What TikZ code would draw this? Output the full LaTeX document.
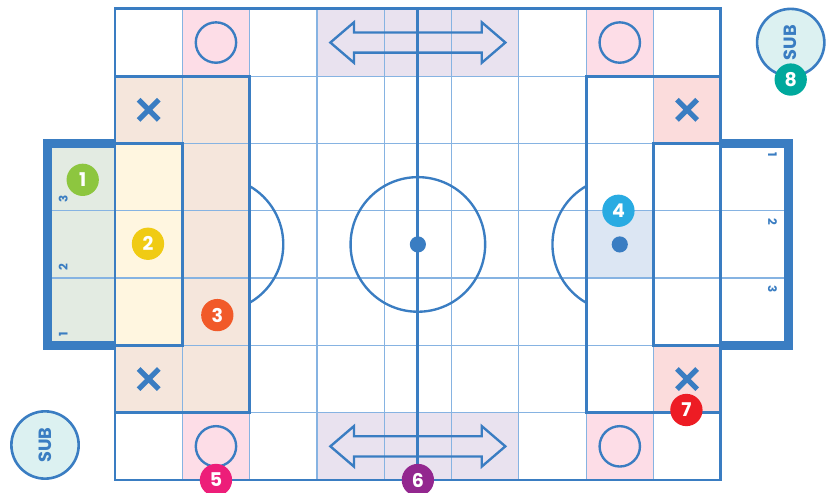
\documentclass[tikz,border=0pt]{standalone}
\usepackage{fontspec}
\usepackage{xcolor}
\newfontfamily\badgefont{Poppins}

\definecolor{lineblue}{HTML}{3A7DC2}
\definecolor{gridblue}{HTML}{86B3E2}
\definecolor{goalfill}{HTML}{E3EBE2}
\definecolor{boxyellow}{HTML}{FFF6E0}
\definecolor{boxpeach}{HTML}{F5E6DC}
\definecolor{cellpink}{HTML}{FDDDE7}
\definecolor{cellrose}{HTML}{FBDCDC}
\definecolor{celllilac}{HTML}{E9E2EF}
\definecolor{cellblue}{HTML}{DCE6F3}
\definecolor{subfill}{HTML}{DCF1F1}
\definecolor{badgeone}{HTML}{8DC63F}
\definecolor{badgetwo}{HTML}{F0CB14}
\definecolor{badgethree}{HTML}{F15A29}
\definecolor{badgefour}{HTML}{29ABE2}
\definecolor{badgefive}{HTML}{ED1E79}
\definecolor{badgesix}{HTML}{93278F}
\definecolor{badgeseven}{HTML}{ED1C24}
\definecolor{badgeeight}{HTML}{00A99D}

\begin{document}
\begin{tikzpicture}[x=1cm,y=1cm,
    gridline/.style={line width=0.5pt, draw=gridblue},
    fieldline/.style={line width=1.2pt, draw=lineblue},
    markline/.style={line width=1pt, draw=lineblue},
    goalline/.style={line width=3.8pt, draw=lineblue},
    badge/.style={circle, fill=#1, text=white, inner sep=0pt, minimum size=0.48cm,
      font=\badgefont\bfseries\fontsize{8}{8}\selectfont},
    subring/.style={circle, draw=lineblue, line width=1.1pt, fill=subfill, minimum size=1cm,
      inner sep=0pt, text=lineblue, font=\badgefont\bfseries\fontsize{7.5}{7.5}\selectfont},
    slot/.style={inner sep=0pt, text=lineblue, font=\badgefont\bfseries\fontsize{5}{5}\selectfont}]
      \useasboundingbox (-1.709,-0.193) rectangle (10.609,7.132);
      \fill [goalfill] (-1,2) rectangle (0,5);
      \fill [boxpeach] (0,1) rectangle (2,6);
      \fill [boxyellow] (0,2) rectangle (1,5);
      \fill [cellpink] (1,6) rectangle (2,7) (7,6) rectangle (8,7) (1,0) rectangle (2,1) (7,0) rectangle (8,1);
      \fill [celllilac] (3,6) rectangle (6,7) (3,0) rectangle (6,1);
      \fill [cellrose] (8,5) rectangle (9,6) (8,1) rectangle (9,2);
      \fill [cellblue] (7,3) rectangle (8,4);
      \draw [gridline] (0,0) grid (9,7);
      \draw [gridline] (-1,3) -- (0,3) (-1,4) -- (0,4) (9,3) -- (10,3) (9,4) -- (10,4);
      \draw [markline] (1.5,3.5) ++(-60:1) arc (-60:60:1);
      \draw [markline] (7.5,3.5) ++(120:1) arc (120:240:1);
      \draw [markline] (4.5,3.5) circle (1);
      \fill [lineblue] (4.5,3.5) circle (0.12) (7.5,3.5) circle (0.12);
      \draw [fieldline] (0,0) rectangle (9,7);
      \draw [fieldline] (0,1) rectangle (2,6) (7,1) rectangle (9,6);
      \draw [fieldline] (0,2) rectangle (1,5) (8,2) rectangle (9,5);
      \draw [fieldline] (4.5,0) -- (4.5,7);
      \draw [goalline] (0,5) -- (-1,5) -- (-1,2) -- (0,2);
      \draw [goalline] (9,5) -- (10,5) -- (10,2) -- (9,2);
      \foreach \cx/\cy in {1.5/6.5, 7.5/6.5, 1.5/0.5, 7.5/0.5}
        \draw [markline] (\cx,\cy) circle (0.3);
      \foreach \cx/\cy in {0.5/5.5, 0.5/1.5, 8.5/5.5, 8.5/1.5}
        \draw [lineblue, line width=2.2pt] (\cx-0.15,\cy-0.15) -- (\cx+0.15,\cy+0.15)
          (\cx-0.15,\cy+0.15) -- (\cx+0.15,\cy-0.15);
      \foreach \cy in {0.5,6.5}
        \draw [markline, line join=miter] (3.2,\cy) -- (3.55,\cy+0.3) -- (3.55,\cy+0.15) -- (5.45,\cy+0.15)
          -- (5.45,\cy+0.3) -- (5.8,\cy) -- (5.45,\cy-0.3) -- (5.45,\cy-0.15) -- (3.55,\cy-0.15)
          -- (3.55,\cy-0.3) -- cycle;
      \node [slot, rotate=90] (L3) at (-0.77,4.17) {3};
      \node [slot, rotate=90] (L2) at (-0.77,3.17) {2};
      \node [slot, rotate=90] (L1) at (-0.77,2.17) {1};
      \node [slot, rotate=-90] (R1) at (9.77,4.83) {1};
      \node [slot, rotate=-90] (R2) at (9.77,3.83) {2};
      \node [slot, rotate=-90] (R3) at (9.77,2.83) {3};
      \node [subring] (SUBa) at (10.04,6.5) {\rotatebox{90}{SUB}};
      \node [subring] (SUBb) at (-1.04,0.52) {\rotatebox{90}{SUB}};
      \node [badge=badgeone] (N1) at (-0.48,4.46) {1};
      \node [badge=badgetwo] (N2) at (0.49,3.51) {2};
      \node [badge=badgethree] (N3) at (1.52,2.45) {3};
      \node [badge=badgefour] (N4) at (7.48,4.0) {4};
      \node [badge=badgefive] (N5) at (1.5,0) {5};
      \node [badge=badgesix] (N6) at (4.5,0) {6};
      \node [badge=badgeseven] (N7) at (8.49,1.04) {7};
      \node [badge=badgeeight] (N8) at (10.04,5.95) {8};
    \end{tikzpicture}
\end{document}
